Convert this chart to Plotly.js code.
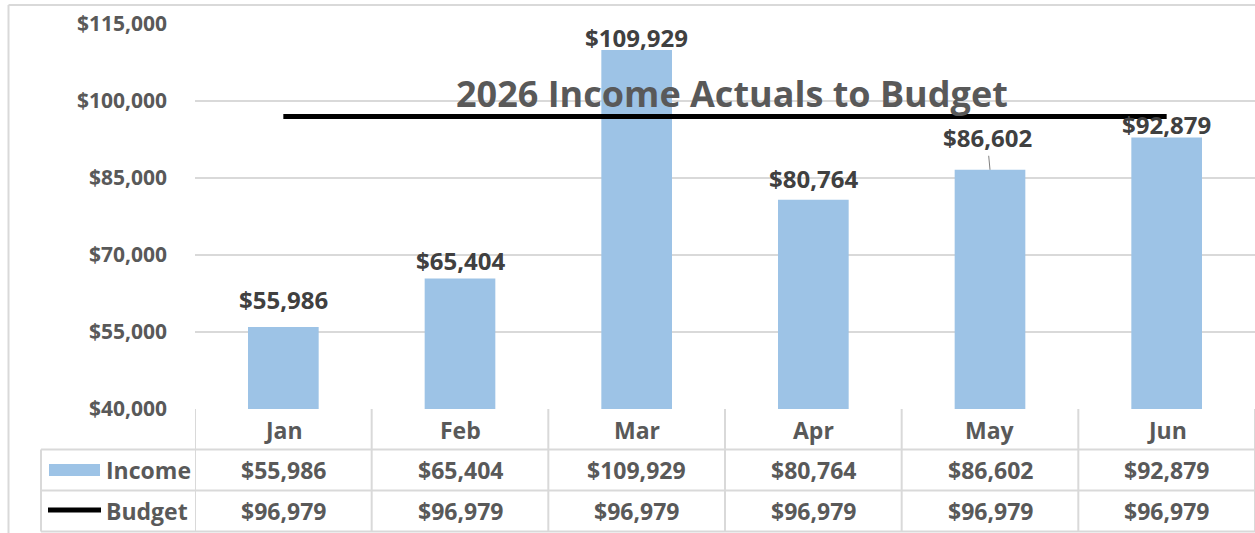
<!DOCTYPE html>
<html>
<head>
<meta charset="utf-8">
<script src="https://cdn.plot.ly/plotly-3.0.1.min.js"></script>
<style>html,body{margin:0;padding:0;background:#fff;}#chart{width:1255px;height:533px;}</style>
</head>
<body>
<div id="chart"></div>
<script>
const months = ['Jan', 'Feb', 'Mar', 'Apr', 'May', 'Jun'];
const income = [55986, 65404, 109929, 80764, 86602, 92879];
const budget = [96979, 96979, 96979, 96979, 96979, 96979];
const yTickVals = [40000, 55000, 70000, 85000, 100000, 115000];
const yTickText = ['$40,000', '$55,000', '$70,000', '$85,000', '$100,000', '$115,000'];
const chartTitle = '2026 Income Actuals to Budget';
const seriesNames = ['Income', 'Budget'];

const W = 1255, H = 533;
const px = v => v / W;          // paper x from pixel
const py = v => 1 - v / H;      // paper y from pixel (top-based)

const FONT = 'Open Sans, Noto Sans, sans-serif';
const gridColor = '#D9D9D9';
const barColor = '#9DC3E6';
const labelColor = '#404040';
const textColor = '#595959';

const fmt = v => '$' + v.toLocaleString('en-US');

const traces = [
  {
    type: 'bar', x: months, y: income, name: seriesNames[0],
    marker: {color: barColor}, width: 0.4, hoverinfo: 'skip'
  },
  {
    type: 'scatter', mode: 'lines', x: months, y: budget, name: seriesNames[1],
    line: {color: '#000000', width: 5}, hoverinfo: 'skip'
  }
];

// label offsets (px above bar top)
const labelShift = [27, 18, 13, 21, 32, 13];

const labelFont = {family: FONT, size: 24, color: labelColor, weight: 700};
const annotations = [];
income.forEach((v, i) => {
  if (i === 4) {
    annotations.push({
      x: months[i], y: v, xref: 'x', yref: 'y', text: fmt(v),
      showarrow: true, arrowhead: 0, arrowwidth: 1, arrowcolor: '#7F7F7F',
      ax: -3, ay: -labelShift[i], standoff: 0,
      font: labelFont
    });
  } else {
    annotations.push({
      x: months[i], y: v, xref: 'x', yref: 'y', text: fmt(v),
      showarrow: false, yanchor: 'middle', xanchor: 'center', yshift: labelShift[i],
      font: labelFont
    });
  }
});

// data table text
const tableFont = {family: FONT, size: 23, color: textColor, weight: 700};
months.forEach((m, i) => {
  annotations.push({x: m, y: py(430), xref: 'x', yref: 'paper', text: m, showarrow: false, yanchor: 'middle', font: tableFont});
  annotations.push({x: m, y: py(470), xref: 'x', yref: 'paper', text: fmt(income[i]), showarrow: false, yanchor: 'middle', font: tableFont});
  annotations.push({x: m, y: py(511), xref: 'x', yref: 'paper', text: fmt(budget[i]), showarrow: false, yanchor: 'middle', font: tableFont});
});
annotations.push({x: px(104), y: py(470), xref: 'paper', yref: 'paper', text: seriesNames[0], showarrow: false, xanchor: 'left', yanchor: 'middle', font: tableFont});
annotations.push({x: px(104), y: py(511), xref: 'paper', yref: 'paper', text: seriesNames[1], showarrow: false, xanchor: 'left', yanchor: 'middle', font: tableFont});

// title
annotations.push({
  x: px(732), y: py(93), xref: 'paper', yref: 'paper', text: chartTitle, showarrow: false,
  xanchor: 'center', yanchor: 'middle',
  font: {family: FONT, size: 36, color: textColor, weight: 700}
});

const lineStyle = {color: gridColor, width: 2};
const shapes = [];
// chart outer border
shapes.push({type: 'line', xref: 'paper', yref: 'paper', x0: px(8.5), x1: px(8.5), y0: py(5), y1: py(540), line: lineStyle});
shapes.push({type: 'line', xref: 'paper', yref: 'paper', x0: px(8.5), x1: 1.01, y0: py(5), y1: py(5), line: lineStyle});
// table horizontal lines
shapes.push({type: 'line', xref: 'paper', yref: 'paper', x0: px(41), x1: 1, y0: py(449.5), y1: py(449.5), line: lineStyle});
shapes.push({type: 'line', xref: 'paper', yref: 'paper', x0: px(41), x1: 1, y0: py(490.5), y1: py(490.5), line: lineStyle});
shapes.push({type: 'line', xref: 'paper', yref: 'paper', x0: px(41), x1: 1, y0: py(531.5), y1: py(531.5), line: lineStyle});
// table left column
shapes.push({type: 'line', xref: 'paper', yref: 'paper', x0: px(41), x1: px(41), y0: py(449.5), y1: py(531.5), line: lineStyle});
// column separators tied to category axis
for (let i = 0; i <= months.length; i++) {
  shapes.push({type: 'line', xref: 'x', yref: 'paper', x0: i - 0.5, x1: i - 0.5, y0: py(409), y1: py(531.5), line: lineStyle});
}
// legend keys
shapes.push({type: 'rect', xref: 'paper', yref: 'paper', x0: px(49), x1: px(100), y0: py(464), y1: py(476), fillcolor: barColor, line: {width: 0}});
shapes.push({type: 'line', xref: 'paper', yref: 'paper', x0: px(48), x1: px(101), y0: py(510), y1: py(510), line: {color: '#000', width: 5}});

const layout = {
  width: W, height: H,
  margin: {l: 0, r: 0, t: 0, b: 0, pad: 0},
  paper_bgcolor: '#ffffff', plot_bgcolor: '#ffffff',
  showlegend: false,
  bargap: 0.6,
  xaxis: {
    domain: [px(195), 1], range: [-0.5, 5.5], type: 'category',
    showticklabels: false, showgrid: false, zeroline: false, showline: false, ticks: ''
  },
  yaxis: {
    domain: [py(409), py(24)], range: [40000, 115000],
    tickvals: yTickVals, ticktext: yTickText,
    showgrid: true, gridcolor: gridColor, gridwidth: 2,
    zeroline: false, showline: false, ticks: '',
    ticklabelstandoff: 27,
    tickfont: {family: FONT, size: 21, color: textColor, weight: 700}
  },
  annotations: annotations,
  shapes: shapes
};

Plotly.newPlot('chart', traces, layout, {staticPlot: true, displayModeBar: false});
</script>
</body>
</html>
